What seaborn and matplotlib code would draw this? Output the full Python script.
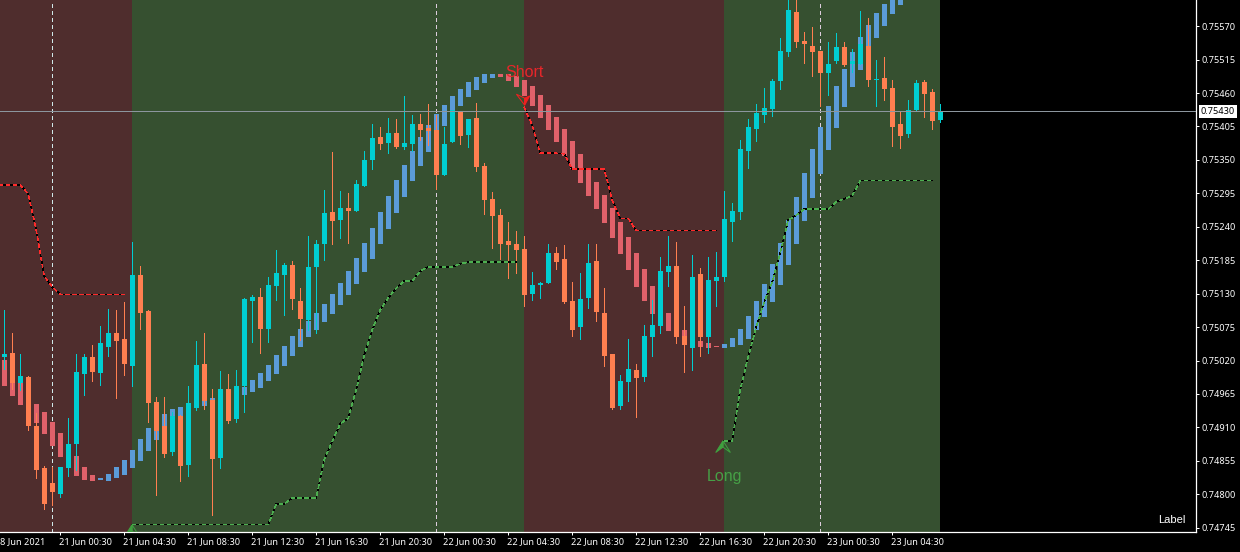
import numpy as np
import pandas as pd
import matplotlib
matplotlib.use("Agg")
import matplotlib.pyplot as plt
from matplotlib.patches import Polygon
from matplotlib.transforms import IdentityTransform, ScaledTranslation
import seaborn as sns

# 30 minute bars, prices in points (1e-5)
opens = [75026, 75033, 74983, 74993, 74913, 74844, 74819, 74801, 74844, 74883,
         74998, 75026, 75000, 75042, 75065, 75056, 75011, 75161, 75102, 74952,
         74913, 74870, 74929, 74849, 74942, 75015, 74955, 74860, 74973, 74924,
         74978, 75118, 75125, 75072, 75143, 75161, 75177, 75118, 75087, 75174,
         75212, 75264, 75251, 75271, 75266, 75307, 75350, 75388, 75378, 75394,
         75371, 75376, 75409, 75402, 75399, 75325, 75379, 75429, 75391, 75419,
         75340, 75286, 75259, 75217, 75212, 75204, 75130, 75144, 75148, 75197,
         75187, 75118, 75075, 75123, 75184, 75098, 75031, 74946, 74985, 75005,
         74993, 75059, 75077, 75166, 75176, 75061, 75041, 75162, 75059, 75151,
         75158, 75248, 75264, 75365, 75401, 75424, 75434, 75480, 75527, 75593,
         75545, 75537, 75529, 75493, 75512, 75535, 75507, 75507, 75537, 75481,
         75485, 75468, 75409, 75393, 75432, 75478, 75462, 75416]
highs = [75103, 75065, 75031, 74995, 74934, 74847, 74845, 74845, 74926, 75031,
         75031, 75046, 75077, 75105, 75103, 75116, 75215, 75176, 75103, 74960,
         74960, 74935, 74931, 74978, 75052, 75065, 74973, 75003, 74998, 75005,
         75123, 75128, 75139, 75158, 75202, 75181, 75184, 75139, 75225, 75218,
         75300, 75363, 75299, 75296, 75317, 75365, 75409, 75404, 75419, 75417,
         75455, 75424, 75425, 75442, 75424, 75404, 75432, 75429, 75417, 75443,
         75345, 75297, 75269, 75248, 75233, 75225, 75166, 75149, 75212, 75207,
         75210, 75149, 75164, 75212, 75212, 75139, 75031, 74996, 75056, 75015,
         75079, 75120, 75190, 75225, 75215, 75110, 75194, 75172, 75190, 75199,
         75299, 75279, 75383, 75417, 75442, 75468, 75483, 75550, 75620, 75620,
         75560, 75568, 75529, 75544, 75559, 75544, 75532, 75595, 75583, 75514,
         75519, 75481, 75430, 75448, 75481, 75481, 75466, 75442]
lows = [75006, 74973, 74972, 74906, 74826, 74776, 74783, 74796, 74830, 74840,
        74964, 74987, 74980, 75028, 74959, 74996, 74978, 75072, 74919, 74799,
        74862, 74865, 74822, 74830, 74939, 74941, 74766, 74844, 74918, 74919,
        74936, 75051, 75033, 75051, 75120, 75095, 75105, 75054, 75070, 75065,
        75185, 75212, 75222, 75213, 75266, 75307, 75335, 75368, 75361, 75370,
        75368, 75365, 75383, 75374, 75302, 75325, 75379, 75376, 75371, 75332,
        75261, 75205, 75187, 75156, 75164, 75110, 75120, 75123, 75148, 75171,
        75115, 75061, 75056, 75107, 75085, 75011, 74941, 74941, 74954, 74927,
        74987, 75028, 75065, 75143, 75049, 75001, 75005, 75028, 75033, 75110,
        75151, 75217, 75253, 75337, 75381, 75412, 75422, 75466, 75521, 75535,
        75509, 75488, 75439, 75457, 75509, 75504, 75494, 75507, 75471, 75439,
        75448, 75373, 75370, 75388, 75432, 75420, 75401, 75412]
closes = [75031, 74983, 74995, 74913, 74840, 74784, 74804, 74845, 74883, 75001,
          75026, 75001, 75049, 75065, 75052, 75015, 75161, 75098, 74950, 74904,
          74867, 74929, 74847, 74950, 75013, 74954, 74858, 74973, 74921, 74978,
          75121, 75125, 75072, 75144, 75164, 75177, 75121, 75088, 75174, 75212,
          75263, 75250, 75271, 75266, 75310, 75350, 75386, 75376, 75394, 75371,
          75378, 75409, 75399, 75397, 75325, 75376, 75432, 75389, 75417, 75338,
          75284, 75258, 75212, 75210, 75202, 75128, 75144, 75148, 75197, 75182,
          75116, 75070, 75121, 75181, 75100, 75028, 74942, 74987, 75006, 74992,
          75061, 75079, 75167, 75176, 75059, 75046, 75158, 75059, 75153, 75158,
          75253, 75266, 75368, 75404, 75427, 75435, 75480, 75529, 75596, 75544,
          75540, 75527, 75493, 75508, 75535, 75506, 75512, 75540, 75481, 75483,
          75466, 75404, 75389, 75432, 75476, 75458, 75414, 75430]

# smoothed heiken ashi style band
band_open = [75021, 75005, 74988, 74972, 74949, 74936, 74919, 74901, 74881, 74863,
             74845, 74832, 74824, 74822, 74826, 74832, 74844, 74855, 74872, 74890,
             74898, 74906, 74914, 74933, 74942, 74946, 74950, 74955, 74958, 74961,
             74964, 74969, 74975, 74987, 74998, 75011, 75028, 75042, 75059, 75070,
             75084, 75097, 75112, 75128, 75146, 75166, 75187, 75212, 75236, 75263,
             75289, 75315, 75340, 75363, 75383, 75406, 75425, 75439, 75453, 75465,
             75476, 75485, 75491, 75491, 75488, 75481, 75471, 75457, 75440, 75420,
             75401, 75381, 75360, 75337, 75314, 75292, 75271, 75248, 75223, 75197,
             75171, 75143, 75120, 75098, 75084, 75070, 75061, 75052, 75049, 75044,
             75041, 75042, 75046, 75056, 75070, 75092, 75116, 75144, 75177, 75212,
             75250, 75287, 75327, 75366, 75402, 75437, 75470, 75498, 75526, 75550,
             75570, 75590, 75604]
band_close = [74978, 74962, 74947, 74931, 74918, 74899, 74880, 74862, 74849, 74830,
              74824, 74822, 74827, 74834, 74845, 74857, 74873, 74891, 74909, 74926,
              74932, 74941, 74944, 74948, 74953, 74955, 74959, 74964, 74968, 74972,
              74977, 74988, 75000, 75013, 75029, 75044, 75061, 75072, 75085, 75098,
              75113, 75130, 75148, 75167, 75189, 75213, 75238, 75264, 75291, 75317,
              75342, 75365, 75388, 75407, 75425, 75440, 75455, 75466, 75478, 75486,
              75491, 75491, 75486, 75480, 75470, 75455, 75439, 75419, 75399, 75379,
              75356, 75335, 75312, 75291, 75269, 75246, 75222, 75195, 75169, 75141,
              75118, 75097, 75079, 75069, 75059, 75046, 75044, 75042, 75041, 75042,
              75047, 75057, 75072, 75093, 75118, 75146, 75179, 75213, 75251, 75289,
              75328, 75368, 75404, 75439, 75471, 75499, 75527, 75552, 75572, 75591,
              75606, 75621, 75632]

# trailing stop lines, each with the bar it starts on
short_stop_a_start = -1
short_stop_a = [75309, 75309, 75309, 75309, 75294, 75235, 75159, 75141, 75129, 75129, 75129,
                75129, 75129, 75129, 75129, 75129, 75129]
short_stop_b_start = 65
short_stop_b = [75437, 75407, 75361, 75361, 75361, 75360, 75335, 75335, 75335, 75335,
                75335, 75284, 75254, 75254, 75234, 75234, 75234, 75234, 75234, 75234,
                75234, 75234, 75234, 75234, 75234]
long_stop_a_start = 16
long_stop_a = [74750, 74750, 74750, 74750, 74750, 74750, 74750, 74750, 74750, 74750,
               74750, 74750, 74750, 74750, 74750, 74750, 74750, 74750, 74784, 74784,
               74794, 74794, 74794, 74794, 74857, 74887, 74916, 74925, 74972, 75029,
               75070, 75103, 75123, 75139, 75151, 75151, 75167, 75174, 75174, 75174,
               75174, 75179, 75182, 75182, 75182, 75182, 75182, 75182, 75182]
long_stop_b_start = 90
long_stop_b = [74888, 74888, 74972, 75026, 75075, 75116, 75149, 75197, 75251, 75259,
               75269, 75269, 75269, 75269, 75281, 75286, 75291, 75316, 75316, 75316,
               75316, 75316, 75316, 75316, 75316, 75316, 75316]

short_zones = [(-1, 16), (65, 90)]
long_zones = [(16, 65), (90, 117)]
separators = [6, 54, 102]
separator_colors = ["#CFE8E8", "#DCCCDC", "#DCCCDC"]

time_ticks = [7, 15, 23, 31, 39, 47, 55, 63, 71, 79, 87, 95, 103, 111]
time_labels = ["21 Jun 00:30", "21 Jun 04:30", "21 Jun 08:30", "21 Jun 12:30",
               "21 Jun 16:30", "21 Jun 20:30", "22 Jun 00:30", "22 Jun 04:30",
               "22 Jun 08:30", "22 Jun 12:30", "22 Jun 16:30", "22 Jun 20:30",
               "23 Jun 00:30", "23 Jun 04:30"]
price_ticks = [0.75570, 0.75515, 0.75460, 0.75405, 0.75350, 0.75295, 0.75240, 0.75185,
               0.75130, 0.75075, 0.75020, 0.74965, 0.74910, 0.74855, 0.74800, 0.74745]
last_price = 0.75430

TEAL = "#00CED1"
CORAL = "#FF7F50"
BLUE = "#5B9BD8"
RED = "#E0616A"
RED_BG = "#4F2D2D"
GREEN_BG = "#365030"
RED_LINE = "#FF2A2A"
GREEN_LINE = "#4CAF50"


def draw_stop(ax, start, values, color):
    df = pd.DataFrame({"bar": np.arange(start, start + len(values)),
                       "price": np.array(values) / 1e5})
    sns.lineplot(data=df, x="bar", y="price", ax=ax, color="black", lw=0.35,
                 estimator=None, sort=False, zorder=5, antialiased=False)
    sns.lineplot(data=df, x="bar", y="price", ax=ax, color=color, lw=0.35,
                 estimator=None, sort=False, zorder=6, antialiased=False,
                 linestyle=(0, (6.2, 6.2)))


def draw_arrow(ax, bar, price, color, up):
    # shape is given in pixels around the tip, half filled half outline
    tip = ax.transData.transform((bar, price))
    if up:
        left, right, notch = (-7.3, -11.7), (7.4, -11.7), (0, -6.3)
    else:
        left, right, notch = (-8.3, 11), (5, 9.3), (0, 7)
    shape_fill = [(0, 0), left, notch] if up else [(0, 0), right, notch]
    shape_line = [(0, 0), right, notch] if up else [(0, 0), left, notch]
    ax.add_patch(Polygon(tip + np.array(shape_fill), closed=True, fc=color, ec=color, lw=0.72,
                         transform=IdentityTransform(), zorder=7))
    ax.add_patch(Polygon(tip + np.array(shape_line), closed=True, fc="none", ec=color, lw=0.72,
                         transform=IdentityTransform(), zorder=7))


sns.set_theme(style="dark", rc={"figure.facecolor": "black", "axes.facecolor": "black",
                                "savefig.facecolor": "black"})
plt.rcParams["font.family"] = ["Noto Sans", "DejaVu Sans"]

fig = plt.figure(figsize=(12.4, 5.52), dpi=100)
ax = fig.add_axes([0, 20 / 552, 1196 / 1240, 532 / 552])
ax.set_xlim(-0.525, 148.975)
ax.set_ylim(0.74738, 0.75613)

for a, b in short_zones:
    ax.axvspan(a - 0.025, b - 0.025, color=RED_BG, lw=0, zorder=0)
for a, b in long_zones:
    ax.axvspan(a - 0.025, b - 0.025, color=GREEN_BG, lw=0, zorder=0)
for s, c in zip(separators, separator_colors):
    ax.axvline(s, color=c, lw=0.72, ls=(0, (3, 3)), zorder=1, antialiased=False)

# band under the candles
b_open = np.array(band_open) / 1e5
b_close = np.array(band_close) / 1e5
b_x = np.arange(len(b_open))
ax.bar(b_x, b_close - b_open, bottom=b_open, width=0.625, lw=0, antialiased=False, zorder=2,
       color=[BLUE if c > o else RED for o, c in zip(b_open, b_close)])

o = np.array(opens) / 1e5
h = np.array(highs) / 1e5
l = np.array(lows) / 1e5
c = np.array(closes) / 1e5
x = np.arange(len(o))
candle_colors = [TEAL if cl > op else CORAL for op, cl in zip(o, c)]
ax.vlines(x, l, h, colors=candle_colors, lw=0.72, zorder=3, antialiased=False)
ax.bar(x, c - o, bottom=o, width=0.625, color=candle_colors, lw=0, antialiased=False, zorder=4)

draw_stop(ax, short_stop_a_start, short_stop_a, RED_LINE)
draw_stop(ax, short_stop_b_start, short_stop_b, RED_LINE)
draw_stop(ax, long_stop_a_start, long_stop_a, GREEN_LINE)
draw_stop(ax, long_stop_b_start, long_stop_b, GREEN_LINE)

ax.axhline(last_price, color="#8C969E", lw=0.72, zorder=8, antialiased=False)

draw_arrow(ax, 15.975, 0.74750, "#3FA03F", True)
draw_arrow(ax, 89.85, 0.74888, "#3FA03F", True)
draw_arrow(ax, 65.06, 0.75440, "#F02020", False)
ax.text(65.06, 0.75494, "Short", color="#E8262A", fontsize=11.5, family="Liberation Sans",
        ha="center", va="center", zorder=9)
ax.text(90.06, 0.74830, "Long", color="#46A046", fontsize=11.5, family="Liberation Sans",
        ha="center", va="center", zorder=9)
ax.text(147.7, 0.74758, "Label", color="white", fontsize=8, family="Liberation Sans",
        ha="right", va="center", zorder=9)

ax.spines["top"].set_visible(False)
ax.spines["left"].set_visible(False)
for side in ["right", "bottom"]:
    ax.spines[side].set_visible(True)
    ax.spines[side].set_color("white")
    ax.spines[side].set_linewidth(0.9)

ax.set_xlabel("")
ax.set_ylabel("")
ax.yaxis.tick_right()
ax.set_yticks(price_ticks)
ax.set_yticklabels(["%.5f" % p for p in price_ticks])
ax.set_xticks(time_ticks)
ax.set_xticklabels(time_labels, ha="left")
ax.tick_params(axis="both", colors="white", labelcolor="white", length=2.4, width=0.72,
               labelsize=6.6, pad=1.2, bottom=True, right=True, left=False)
# stamps start a pixel left of their tick
nudge = ScaledTranslation(-1 / 100, 0, fig.dpi_scale_trans)
for lab in ax.get_xticklabels():
    lab.set_transform(lab.get_transform() + nudge)
ax.annotate("8 Jun 2021", xy=(0, 0), xycoords="axes fraction", xytext=(0, -4.0),
            textcoords="offset points", color="white", fontsize=6.6, ha="left", va="top",
            annotation_clip=False)
ax.annotate("%.5f" % last_price, xy=(1, last_price), xycoords=("axes fraction", "data"),
            xytext=(3.4, 0), textcoords="offset points", color="black", fontsize=6.6,
            va="center", ha="left", annotation_clip=False, zorder=10,
            bbox=dict(boxstyle="square,pad=0.22", fc="white", ec="none"))

fig.savefig("out.png", dpi=100)
